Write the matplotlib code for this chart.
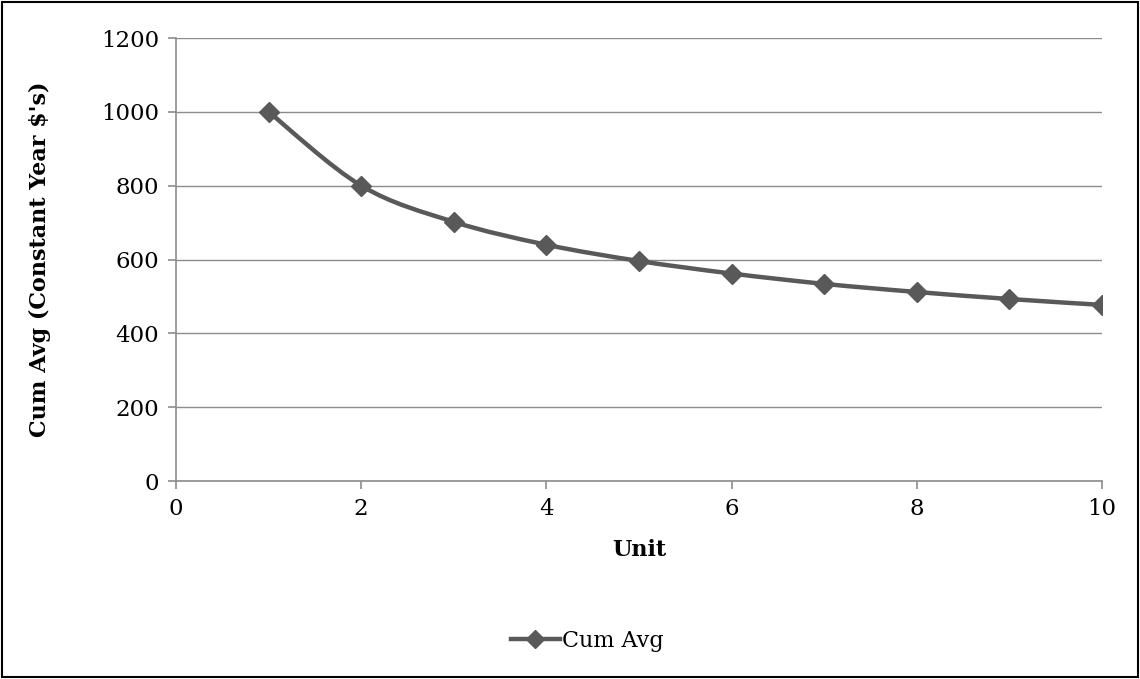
import matplotlib
matplotlib.use("Agg")
import matplotlib.pyplot as plt
from matplotlib.path import Path
from matplotlib.patches import PathPatch, Rectangle
from matplotlib.lines import Line2D

units = [1, 2, 3, 4, 5, 6, 7, 8, 9, 10]
cum_avg = [1000, 800, 702, 640, 596, 562, 534, 512, 493, 477]
series_name = "Cum Avg"

line_color = "#595959"
grid_color = "#8c8c8c"

plt.rcParams['font.family'] = ['DejaVu Serif']
plt.rcParams['font.size'] = 16

fig = plt.figure(figsize=(11.4, 6.79), dpi=100)
ax = fig.add_axes([0.1544, 0.2916, 0.9667 - 0.1544, 0.944 - 0.2916])

# smoothed line like Excel (Catmull-Rom -> cubic bezier)
verts = [(units[0], cum_avg[0])]
codes = [Path.MOVETO]
n = len(units)
for i in range(n - 1):
	p0 = (units[max(i - 1, 0)], cum_avg[max(i - 1, 0)])
	p1 = (units[i], cum_avg[i])
	p2 = (units[i + 1], cum_avg[i + 1])
	p3 = (units[min(i + 2, n - 1)], cum_avg[min(i + 2, n - 1)])
	c1 = (p1[0] + (p2[0] - p0[0]) / 6.0, p1[1] + (p2[1] - p0[1]) / 6.0)
	c2 = (p2[0] - (p3[0] - p1[0]) / 6.0, p2[1] - (p3[1] - p1[1]) / 6.0)
	verts += [c1, c2, p2]
	codes += [Path.CURVE4] * 3
ax.add_patch(PathPatch(Path(verts, codes), facecolor="none", edgecolor=line_color,
	lw=3.2, capstyle="round", joinstyle="round", zorder=3))
ax.plot(units, cum_avg, linestyle="none", marker="D", ms=10.5, color=line_color, zorder=4)

ax.set_xlim(0, 10)
ax.set_ylim(0, 1200)
ax.set_xticks(range(0, 11, 2))
ax.set_yticks(range(0, 1201, 200))
ax.grid(axis="y", color=grid_color, lw=1)
ax.set_axisbelow(True)
for s in ["top", "right"]:
	ax.spines[s].set_visible(False)
for s in ["left", "bottom"]:
	ax.spines[s].set_color(grid_color)
	ax.spines[s].set_linewidth(1.2)
ax.tick_params(axis="both", color=grid_color, length=6, width=1.2, labelsize=16.5, pad=6)

ax.set_xlabel("Unit", fontsize=16, fontweight="bold", labelpad=14)
ax.set_ylabel("Cum Avg (Constant Year $'s)", fontsize=16, fontweight="bold", labelpad=36)

handle = Line2D([], [], color=line_color, lw=3.2, marker="D", ms=9)
fig.legend([handle], [series_name], loc="center", bbox_to_anchor=(0.515, 0.056),
	frameon=False, fontsize=16, handlelength=2.2, handletextpad=0.1)

fig.patches.append(Rectangle((0.0015, 0.0025), 0.997, 0.995, transform=fig.transFigure,
	fill=False, edgecolor="black", lw=1.5))

fig.savefig("out.png", dpi=100)
